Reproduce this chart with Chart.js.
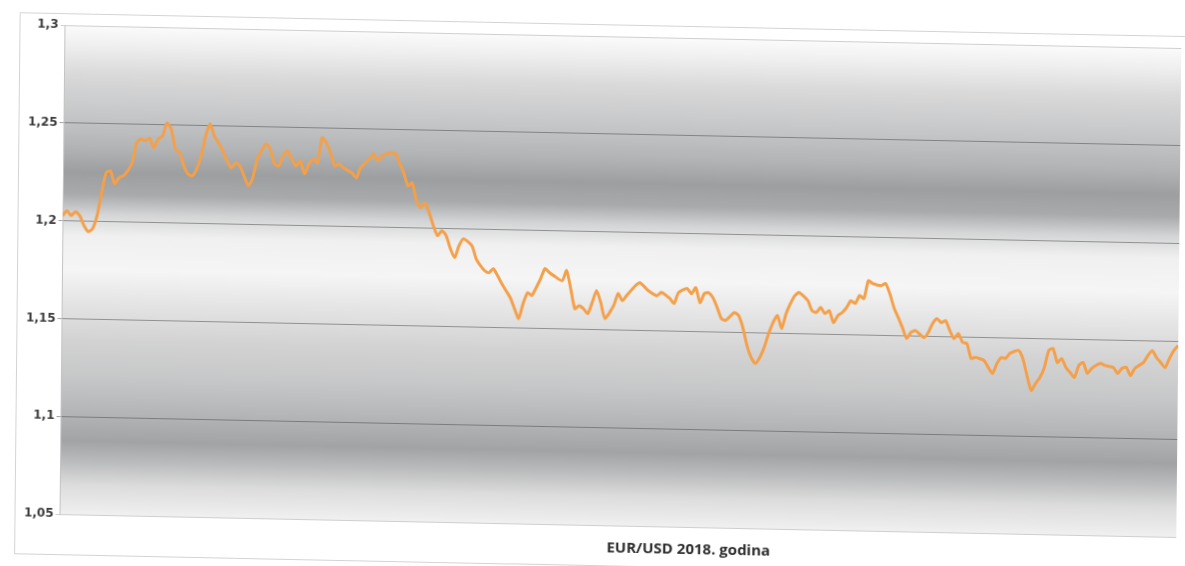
<!DOCTYPE html>
<html>
<head>
<meta charset="utf-8">
<title>EUR/USD 2018</title>
<script src="https://cdn.jsdelivr.net/npm/chart.js@4.4.0/dist/chart.umd.min.js"></script>
<style>
  html, body { margin: 0; padding: 0; background: #fff; }
  #sheet { position: relative; width: 1185px; height: 566px; overflow: hidden; }
  /* the printed sheet sits slightly askew */
  #page {
    position: absolute; left: 0; top: 0; width: 1185px; height: 566px;
    transform-origin: 592px 283px;
    transform: matrix(1, 0.0205, -0.0102, 1, 0, 0);
  }
  #frame { position: absolute; left: 17px; top: 24px; width: 1190px; height: 540px; border: 1px solid #d4d4d4; }
  #chart { position: absolute; left: 0; top: 0; }
  #caption {
    position: absolute; left: 541px; top: 536px; width: 300px;
    text-align: center; line-height: 20px;
    font: bold 15px "Open Sans", sans-serif; color: #2e2e2e;
  }
</style>
</head>
<body>
<div id="sheet">
  <div id="page">
    <div id="frame"></div>
    <canvas id="chart" width="1185" height="566"></canvas>
    <div id="caption">EUR/USD 2018. godina</div>
  </div>
</div>
<script>
// trading day of the year and EUR/USD rate on that day
const tradingDay = [
  0, 1, 2, 3, 4, 5, 6, 7, 8, 9, 10, 11, 12, 13, 14, 15, 16, 17, 18, 19,
  20, 21, 22, 23, 24, 25, 26, 27, 28, 29, 30, 31, 32, 33, 34, 35, 36, 37, 38, 39,
  40, 41, 42, 43, 44, 45, 46, 47, 48, 49, 50, 51, 52, 53, 54, 55, 56, 57, 58, 59,
  60, 61, 62, 63, 64, 65, 67, 68, 69, 71, 72, 73, 74, 76, 77, 78, 79, 80, 81, 82,
  83, 84, 85, 86, 87, 88, 89, 90, 91, 92, 93, 95, 96, 97, 98, 99, 100, 101, 102, 103,
  104, 105, 106, 107, 108, 109, 110, 111, 112, 113, 114, 116, 117, 118, 119, 120, 121, 122, 123, 124,
  125, 126, 128, 129, 130, 131, 133, 134, 136, 138, 139, 141, 142, 143, 145, 146, 147, 148, 149, 150,
  151, 152, 153, 154, 156, 157, 158, 159, 160, 161, 162, 163, 164, 165, 166, 167, 168, 169, 170, 171,
  173, 174, 175, 176, 177, 178, 179, 180, 181, 182, 183, 184, 185, 186, 187, 188, 190, 191, 192, 193,
  194, 195, 196, 197, 198, 200, 201, 202, 203, 204, 205, 206, 207, 208, 209, 210, 211, 212, 214, 215,
  216, 217, 218, 219, 220, 222, 223, 224, 225, 226, 227, 228, 229, 230, 231, 232, 233, 234, 235, 236,
  237, 238, 239, 240, 241, 242, 244, 245, 246, 247, 248, 249, 251, 252, 253, 254, 255, 256, 257, 258,
  259
];
const eurUsd = [
  1.2026, 1.2052, 1.2027, 1.2048, 1.2027, 1.1977, 1.1947, 1.1963, 1.2029, 1.2147,
  1.2250, 1.2260, 1.2194, 1.2225, 1.2236, 1.2262, 1.2303, 1.2406, 1.2426, 1.2417,
  1.2432, 1.2382, 1.2428, 1.2444, 1.2510, 1.2480, 1.2379, 1.2359, 1.2293, 1.2252,
  1.2243, 1.2279, 1.2346, 1.2448, 1.2510, 1.2449, 1.2414, 1.2374, 1.2323, 1.2288,
  1.2313, 1.2299, 1.2248, 1.2198, 1.2239, 1.2336, 1.2378, 1.2414, 1.2389, 1.2313,
  1.2303, 1.2355, 1.2381, 1.2340, 1.2305, 1.2331, 1.2265, 1.2316, 1.2342, 1.2323,
  1.2451, 1.2425, 1.2375, 1.2309, 1.2320, 1.2300, 1.2275, 1.2250, 1.2302, 1.2348,
  1.2374, 1.2339, 1.2365, 1.2381, 1.2377, 1.2331, 1.2281, 1.2214, 1.2230, 1.2139,
  1.2104, 1.2130, 1.2079, 1.2013, 1.1963, 1.1989, 1.1964, 1.1898, 1.1852, 1.1914,
  1.1950, 1.1915, 1.1849, 1.1814, 1.1789, 1.1779, 1.1800, 1.1765, 1.1725, 1.1689,
  1.1654, 1.1598, 1.1548, 1.1625, 1.1681, 1.1667, 1.1708, 1.1754, 1.1806, 1.1786,
  1.1771, 1.1746, 1.1798, 1.1706, 1.1604, 1.1620, 1.1605, 1.1580, 1.1637, 1.1699,
  1.1638, 1.1557, 1.1624, 1.1686, 1.1650, 1.1677, 1.1728, 1.1744, 1.1704, 1.1679,
  1.1696, 1.1666, 1.1641, 1.1697, 1.1719, 1.1693, 1.1724, 1.1648, 1.1695, 1.1700,
  1.1675, 1.1625, 1.1569, 1.1560, 1.1601, 1.1586, 1.1525, 1.1434, 1.1373, 1.1343,
  1.1374, 1.1426, 1.1497, 1.1554, 1.1590, 1.1524, 1.1601, 1.1653, 1.1694, 1.1710,
  1.1670, 1.1619, 1.1610, 1.1636, 1.1605, 1.1621, 1.1560, 1.1596, 1.1612, 1.1638,
  1.1674, 1.1660, 1.1701, 1.1686, 1.1778, 1.1764, 1.1754, 1.1765, 1.1714, 1.1643,
  1.1593, 1.1542, 1.1487, 1.1518, 1.1528, 1.1493, 1.1519, 1.1566, 1.1592, 1.1571,
  1.1582, 1.1532, 1.1491, 1.1517, 1.1472, 1.1467, 1.1391, 1.1397, 1.1382, 1.1347,
  1.1317, 1.1368, 1.1399, 1.1395, 1.1421, 1.1437, 1.1396, 1.1310, 1.1234, 1.1270,
  1.1301, 1.1352, 1.1440, 1.1450, 1.1379, 1.1400, 1.1355, 1.1330, 1.1305, 1.1367,
  1.1382, 1.1327, 1.1353, 1.1369, 1.1379, 1.1370, 1.1360, 1.1330, 1.1356, 1.1362,
  1.1321, 1.1358, 1.1389, 1.1425, 1.1450, 1.1415, 1.1390, 1.1365, 1.1412, 1.1453,
  1.1479
];
const rateTicks = [1.05, 1.1, 1.15, 1.2, 1.25, 1.3];
const lastDay = 259;

// grey banded fill behind the plot
const bandStops = [
  [0, '#fbfbfb'], [0.04, '#efefef'], [0.1, '#d9d9da'], [0.18, '#c6c7c8'],
  [0.25, '#b1b3b5'], [0.3, '#9c9ea0'], [0.345, '#a8aaac'], [0.385, '#d3d4d5'],
  [0.43, '#f0f0f0'], [0.5, '#f5f5f5'], [0.56, '#e6e6e6'], [0.64, '#d3d3d3'],
  [0.72, '#c6c7c8'], [0.79, '#b4b5b6'], [0.85, '#a1a3a5'], [0.89, '#b9babb'],
  [0.94, '#dcdcdc'], [1, '#f0f0f0']
];

const bandFill = {
  id: 'bandFill',
  beforeDraw(chart) {
    const { ctx, chartArea: a } = chart;
    const g = ctx.createLinearGradient(0, a.top, 0, a.bottom);
    bandStops.forEach(([p, c]) => g.addColorStop(p, c));
    ctx.save();
    ctx.fillStyle = g;
    ctx.fillRect(a.left, a.top, a.right - a.left, a.bottom - a.top);
    ctx.restore();
  }
};

const points = tradingDay.map((d, i) => ({ x: d, y: eurUsd[i] }));

new Chart(document.getElementById('chart'), {
  type: 'line',
  data: {
    datasets: [{
      label: 'EUR/USD',
      data: points,
      borderColor: '#f4a04a',
      borderWidth: 3,
      pointRadius: 0,
      tension: 0.2,
      fill: false
    }]
  },
  options: {
    responsive: false,
    animation: false,
    devicePixelRatio: 1,
    layout: { padding: { left: 0, right: 6, top: 36, bottom: 41 } },
    plugins: {
      legend: { display: false },
      tooltip: { enabled: false }
    },
    scales: {
      x: { type: 'linear', min: 0, max: lastDay, display: false },
      y: {
        min: 1.05,
        max: 1.3,
        afterBuildTicks: s => { s.ticks = rateTicks.map(v => ({ value: v })); },
        afterFit: s => { s.width = 62; },
        ticks: {
          padding: 2,
          color: '#3c3c3c',
          font: { family: 'DejaVu Sans', size: 12, weight: 'bold' },
          callback: v => String(+v.toFixed(2)).replace('.', ',')
        },
        grid: {
          color: c => (c.tick && (c.tick.value > 1.29 || c.tick.value < 1.06)) ? '#cfcfcf' : 'rgba(70,70,70,0.5)',
          tickLength: 4,
          lineWidth: 1
        },
        border: { display: true, color: '#c4c4c4' }
      }
    }
  },
  plugins: [bandFill]
});
</script>
</body>
</html>
